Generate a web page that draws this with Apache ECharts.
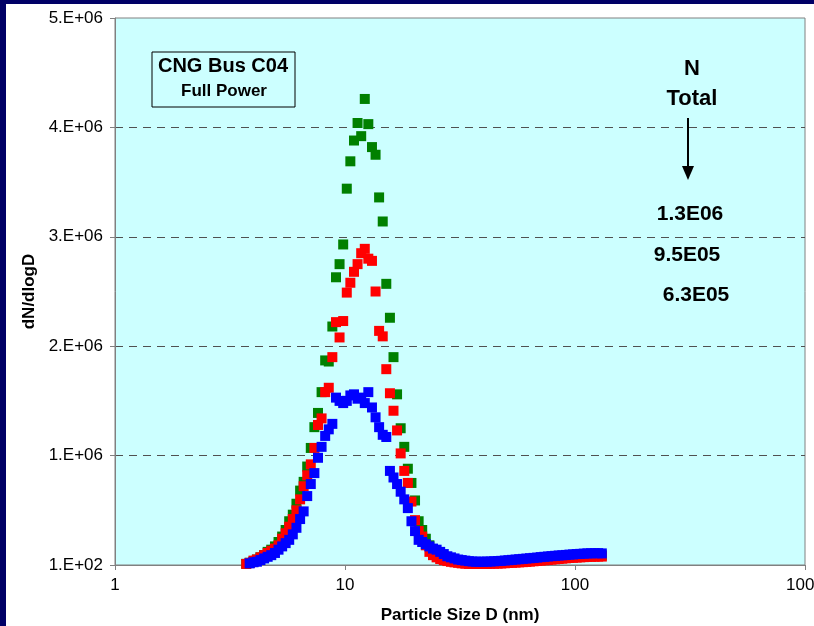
<!DOCTYPE html>
<html>
<head>
<meta charset="utf-8">
<script src="https://cdn.jsdelivr.net/npm/echarts@6/dist/echarts.min.js"></script>
<style>
  body { margin: 0; background: #000066; width: 814px; height: 626px; overflow: hidden; }
  /* white chart panel, navy frame shows on top and left */
  #chart { position: absolute; left: 6px; top: 4px; width: 808px; height: 622px; background: #ffffff; }
</style>
</head>
<body>
<div id="chart"></div>
<script>
// channel midpoint diameters (nm)
const diameters = [
  3.72, 3.85, 4.00, 4.14, 4.29, 4.45, 4.61, 4.78, 4.96, 5.14,
  5.33, 5.52, 5.72, 5.93, 6.15, 6.38, 6.61, 6.85, 7.10, 7.36,
  7.63, 7.91, 8.20, 8.50, 8.81, 9.14, 9.47, 9.82, 10.18, 10.55,
  10.94, 11.34, 11.76, 12.19, 12.63, 13.10, 13.58, 14.07, 14.59, 15.12,
  15.68, 16.25, 16.84, 17.46, 18.10, 18.76, 19.45, 20.16, 20.90, 21.66,
  22.46, 23.28, 24.13, 25.02, 25.93, 26.88, 27.86, 28.88, 29.94, 31.04,
  32.17, 33.35, 34.57, 35.84, 37.15, 38.51, 39.92, 41.38, 42.90, 44.47,
  46.10, 47.78, 49.53, 51.35, 53.22, 55.17, 57.19, 59.29, 61.46, 63.71,
  66.04, 68.46, 70.96, 73.56, 76.25, 79.04, 81.94, 84.94, 88.05, 91.27,
  94.61, 98.07, 101.7, 105.4, 109.2, 113.2, 117.4, 121.7, 126.1, 130.8
];

// dN/dlogD in units of 1E06
const greenN = [
  0.01, 0.02, 0.03, 0.05, 0.07, 0.09, 0.12, 0.14, 0.17, 0.21,
  0.26, 0.32, 0.40, 0.46, 0.56, 0.68, 0.76, 0.90, 1.07, 1.26,
  1.39, 1.58, 1.87, 1.86, 2.18, 2.63, 2.75, 2.93, 3.44, 3.69,
  3.88, 4.04, 3.92, 4.26, 4.03, 3.82, 3.75, 3.36, 3.14, 2.57,
  2.26, 1.90, 1.56, 1.25, 1.08, 0.88, 0.75, 0.59, 0.40, 0.32,
  0.24, 0.18, 0.14, 0.11, 0.08, 0.065, 0.05, 0.04, 0.032, 0.026,
  0.022, 0.019, 0.017, 0.016, 0.015, 0.015, 0.015, 0.016, 0.017, 0.018,
  0.020, 0.022, 0.024, 0.026, 0.028, 0.030, 0.033, 0.036, 0.039, 0.042,
  0.045, 0.048, 0.051, 0.054, 0.057, 0.060, 0.063, 0.066, 0.069, 0.072,
  0.075, 0.077, 0.079, 0.081, 0.083, 0.085, 0.086, 0.087, 0.088, 0.088
];
const redN = [
  0.01, 0.02, 0.04, 0.05, 0.07, 0.09, 0.11, 0.13, 0.15, 0.18,
  0.24, 0.29, 0.35, 0.42, 0.50, 0.60, 0.72, 0.82, 0.92, 1.07,
  1.28, 1.34, 1.58, 1.62, 1.90, 2.22, 2.08, 2.23, 2.49, 2.58,
  2.68, 2.75, 2.85, 2.89, 2.80, 2.78, 2.50, 2.14, 2.09, 1.79,
  1.57, 1.41, 1.23, 1.02, 0.86, 0.75, 0.58, 0.41, 0.31, 0.26,
  0.18, 0.12, 0.09, 0.07, 0.055, 0.045, 0.036, 0.029, 0.024, 0.020,
  0.015, 0.012, 0.010, 0.010, 0.010, 0.010, 0.010, 0.010, 0.011, 0.012,
  0.013, 0.014, 0.016, 0.018, 0.020, 0.022, 0.024, 0.026, 0.028, 0.031,
  0.034, 0.037, 0.040, 0.043, 0.046, 0.049, 0.052, 0.055, 0.058, 0.061,
  0.064, 0.066, 0.068, 0.070, 0.072, 0.074, 0.075, 0.076, 0.077, 0.077
];
const blueN = [
  null, 0.015, 0.025, 0.03, 0.045, 0.06, 0.075, 0.09, 0.11, 0.14,
  0.17, 0.20, 0.23, 0.28, 0.34, 0.42, 0.49, 0.63, 0.74, 0.84,
  0.98, 1.08, 1.18, 1.24, 1.29, 1.53, 1.50, 1.48, 1.50, 1.55,
  1.56, 1.52, 1.53, 1.48, 1.58, 1.44, 1.35, 1.26, 1.19, 1.17,
  0.86, 0.80, 0.74, 0.67, 0.60, 0.52, 0.40, 0.31, 0.23, 0.21,
  0.19, 0.17, 0.15, 0.14, 0.12, 0.10, 0.08, 0.07, 0.06, 0.05,
  0.045, 0.040, 0.035, 0.032, 0.030, 0.030, 0.030, 0.031, 0.032, 0.034,
  0.036, 0.038, 0.041, 0.044, 0.047, 0.050, 0.053, 0.056, 0.059, 0.062,
  0.065, 0.068, 0.072, 0.075, 0.078, 0.081, 0.084, 0.087, 0.089, 0.092,
  0.095, 0.097, 0.100, 0.102, 0.104, 0.106, 0.107, 0.108, 0.108, 0.106
];

// totals written at the right
const totalLabels = ['1.3E06', '9.5E05', '6.3E05'];
const yTickLabels = ['1.E+02', '1.E+06', '2.E+06', '3.E+06', '4.E+06', '5.E+06'];

const font = '"Liberation Sans", Arial, sans-serif';

// pair up diameter and value, skip empty channels
function toPoints(vals) {
  const pts = [];
  vals.forEach((v, i) => {
    if (v !== null) pts.push([diameters[i], v * 1e6]);
  });
  return pts;
}

function scatter(name, vals, color) {
  return {
    name: name,
    type: 'scatter',
    symbol: 'rect',
    symbolSize: 10,
    data: toPoints(vals),
    itemStyle: { color: color, opacity: 1 },
    emphasis: { disabled: true },
    animation: false
  };
}

function label(text, x, y, size) {
  return {
    type: 'text', x: x, y: y,
    style: { text: text, font: 'bold ' + size + 'px ' + font, fill: '#000', textAlign: 'center', textVerticalAlign: 'middle' }
  };
}

const chart = echarts.init(document.getElementById('chart'));

const option = {
  animation: false,
  grid: {
    left: 109, right: 9, top: 14, bottom: 61,
    outerBoundsMode: 'none',
    show: true,
    backgroundColor: '#ccffff',
    borderColor: '#808080',
    borderWidth: 1
  },
  xAxis: {
    type: 'log',
    logBase: 10,
    min: 1,
    max: 1000,
    name: 'Particle Size D (nm)',
    nameLocation: 'middle',
    nameGap: 42,
    nameTextStyle: { fontFamily: font, fontWeight: 'bold', fontSize: 17, color: '#000' },
    axisLine: { show: true, lineStyle: { color: '#808080' } },
    axisTick: { show: true, inside: false, length: 5, lineStyle: { color: '#808080' } },
    minorTick: { show: false },
    splitLine: { show: false },
    axisLabel: {
      fontFamily: font, fontSize: 17, color: '#000', margin: 12,
      formatter: function (v) { return String(Math.round(v)); }
    }
  },
  yAxis: {
    type: 'value',
    min: 0,
    max: 5e6,
    interval: 1e6,
    name: 'dN/dlogD',
    nameLocation: 'middle',
    nameGap: 69,
    nameTextStyle: { fontFamily: font, fontWeight: 'bold', fontSize: 17, color: '#000' },
    axisLine: { show: true, lineStyle: { color: '#808080' } },
    axisTick: { show: true, inside: false, length: 5, lineStyle: { color: '#808080' } },
    splitLine: {
      show: true,
      showMinLine: false,
      showMaxLine: false,
      lineStyle: { color: '#505050', type: [8, 6], width: 1 }
    },
    axisLabel: {
      fontFamily: font, fontSize: 17, color: '#000', margin: 12,
      formatter: function (v) { return yTickLabels[Math.round(v / 1e6)]; }
    }
  },
  series: [
    scatter('green', greenN, '#008000'),
    scatter('red', redN, '#ff0000'),
    scatter('blue', blueN, '#0000ff')
  ],
  graphic: [
    // title box
    { type: 'rect', shape: { x: 146, y: 48, width: 143, height: 55 },
      style: { fill: 'transparent', stroke: '#000', lineWidth: 1 } },
    label('CNG Bus C04', 217, 62, 20),
    label('Full Power', 218, 87, 17),
    // N total header + arrow
    label('N', 686, 65, 22),
    label('Total', 686, 95, 22),
    { type: 'line', shape: { x1: 682, y1: 114, x2: 682, y2: 164 },
      style: { stroke: '#000', lineWidth: 2 } },
    { type: 'polygon', shape: { points: [[676, 162], [688, 162], [682, 176]] },
      style: { fill: '#000' } },
    label(totalLabels[0], 684, 210, 21),
    label(totalLabels[1], 681, 251, 21),
    label(totalLabels[2], 690, 291, 21)
  ]
};

chart.setOption(option);
</script>
</body>
</html>
